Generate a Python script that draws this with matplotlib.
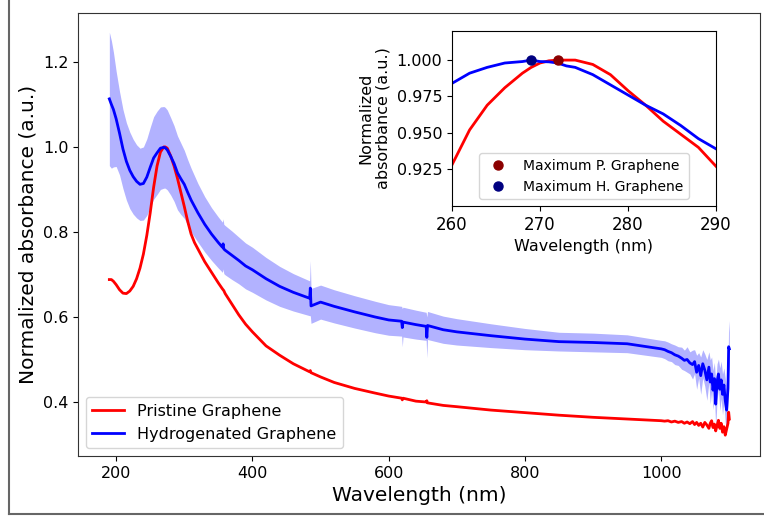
import numpy as np
import matplotlib.pyplot as plt
from matplotlib.lines import Line2D

# ── Data ──────────────────────────────────────────────────
wavelength = [190, 193, 196, 200, 205, 210, 215, 220, 225, 230, 235, 240, 245,
              250, 255, 260, 265, 270, 272, 275, 280, 285, 290, 295, 300, 305,
              310, 315, 320, 330, 340, 350, 356, 357, 358, 360, 370, 380, 390,
              400, 420, 440, 460, 484, 485, 486, 500, 520, 550, 580, 600, 619,
              620, 621, 640, 655, 656, 657, 680, 700, 750, 800, 850, 900, 950,
              1000, 1005, 1010, 1015, 1020, 1025, 1030, 1034, 1038, 1042, 1046,
              1049, 1052, 1055, 1058, 1061, 1064, 1067, 1070, 1072, 1074, 1076,
              1078, 1080, 1082, 1084, 1086, 1088, 1090, 1092, 1094, 1096, 1098,
              1099, 1100]

pristine = [0.688, 0.688, 0.684, 0.676, 0.664, 0.656, 0.655, 0.661, 0.672,
            0.690, 0.715, 0.748, 0.792, 0.845, 0.905, 0.955, 0.988, 1.000,
            1.000, 0.997, 0.979, 0.955, 0.926, 0.893, 0.860, 0.825, 0.795,
            0.775, 0.760, 0.730, 0.705, 0.680, 0.666, 0.664, 0.662, 0.655,
            0.630, 0.605, 0.583, 0.565, 0.532, 0.510, 0.490, 0.471, 0.474,
            0.469, 0.459, 0.446, 0.432, 0.421, 0.414, 0.409, 0.405, 0.409,
            0.402, 0.400, 0.403, 0.398, 0.392, 0.389, 0.381, 0.375, 0.369,
            0.364, 0.360, 0.356, 0.355, 0.356, 0.353, 0.355, 0.352, 0.354,
            0.350, 0.353, 0.349, 0.354, 0.347, 0.352, 0.345, 0.350, 0.341,
            0.352, 0.346, 0.338, 0.350, 0.356, 0.340, 0.348, 0.332, 0.345,
            0.357, 0.338, 0.350, 0.329, 0.342, 0.322, 0.336, 0.350, 0.376,
            0.360]

hydrogenated = [1.113, 1.100, 1.088, 1.066, 1.032, 0.995, 0.966, 0.945,
                0.930, 0.919, 0.912, 0.914, 0.929, 0.952, 0.974, 0.986, 0.997,
                0.999, 0.998, 0.993, 0.978, 0.961, 0.939, 0.925, 0.912, 0.893,
                0.875, 0.860, 0.845, 0.818, 0.795, 0.775, 0.764, 0.772, 0.760,
                0.757, 0.745, 0.733, 0.720, 0.711, 0.690, 0.672, 0.658, 0.644,
                0.668, 0.626, 0.635, 0.625, 0.612, 0.600, 0.593, 0.590, 0.575,
                0.588, 0.582, 0.578, 0.552, 0.580, 0.570, 0.565, 0.556, 0.548,
                0.542, 0.540, 0.537, 0.525, 0.523, 0.519, 0.516, 0.511, 0.508,
                0.503, 0.498, 0.500, 0.492, 0.488, 0.495, 0.470, 0.486, 0.462,
                0.490, 0.475, 0.452, 0.482, 0.447, 0.466, 0.428, 0.455, 0.395,
                0.448, 0.466, 0.430, 0.452, 0.418, 0.440, 0.404, 0.381, 0.432,
                0.530, 0.525]

hydro_std = [0.157, 0.150, 0.135, 0.112, 0.098, 0.093, 0.091, 0.090, 0.088,
             0.086, 0.085, 0.086, 0.090, 0.094, 0.097, 0.098, 0.097, 0.096,
             0.095, 0.094, 0.091, 0.089, 0.087, 0.084, 0.080, 0.077, 0.075,
             0.072, 0.069, 0.065, 0.062, 0.060, 0.059, 0.059, 0.058, 0.058,
             0.057, 0.055, 0.054, 0.053, 0.050, 0.047, 0.044, 0.041, 0.065,
             0.041, 0.040, 0.039, 0.038, 0.037, 0.036, 0.035, 0.045, 0.035,
             0.034, 0.033, 0.048, 0.033, 0.032, 0.031, 0.028, 0.025, 0.022,
             0.022, 0.021, 0.020, 0.021, 0.022, 0.021, 0.023, 0.022, 0.026,
             0.024, 0.030, 0.026, 0.034, 0.028, 0.040, 0.030, 0.044, 0.033,
             0.038, 0.048, 0.036, 0.052, 0.040, 0.046, 0.038, 0.055, 0.042,
             0.035, 0.050, 0.044, 0.048, 0.040, 0.052, 0.046, 0.038, 0.062,
             0.040]

# zoom 260–290 nm (inset)
wl_zoom = [260, 262, 264, 266, 268, 269, 270, 271, 272, 273, 274, 276, 278,
           280, 282, 284, 286, 288, 290]
pristine_zoom = [0.928, 0.952, 0.969, 0.981, 0.991, 0.995, 0.998, 0.9995,
                 1.000, 1.000, 1.000, 0.997, 0.990, 0.979, 0.969, 0.958,
                 0.949, 0.940, 0.927]
hydro_zoom = [0.984, 0.991, 0.995, 0.998, 0.999, 1.000, 0.999, 0.9988,
              0.998, 0.996, 0.995, 0.990, 0.983, 0.976, 0.969, 0.963, 0.955,
              0.946, 0.939]

max_p = (272, 1.000)
max_h = (269, 1.000)

# ── Figure ───────────────────────────────────────────────
fig = plt.figure(figsize=(7.64, 5.18), dpi=100)
ax = fig.add_axes([78 / 764, 1 - 456 / 518, (760 - 78) / 764, (456 - 13) / 518])

wl = np.array(wavelength)
h = np.array(hydrogenated)
s = np.array(hydro_std)

ax.fill_between(wl, h - s, h + s, color="blue", alpha=0.3, linewidth=0)
ax.plot(wl, pristine, color="red", lw=2.0, label="Pristine Graphene")
ax.plot(wl, h, color="blue", lw=2.0, label="Hydrogenated Graphene")

ax.set_xlim(144, 1145)
ax.set_ylim(0.273, 1.315)
ax.set_xticks([200, 400, 600, 800, 1000])
ax.set_yticks([0.4, 0.6, 0.8, 1.0, 1.2])
ax.tick_params(labelsize=11.5)
ax.set_xlabel("Wavelength (nm)", fontsize=14.5)
ax.set_ylabel("Normalized absorbance (a.u.)", fontsize=14.5)
for sp in ax.spines.values():
    sp.set_color("#333333")
ax.legend(loc="lower left", fontsize=11.5)

# ── Inset ────────────────────────────────────────────────
ins = fig.add_axes([452 / 764, 1 - 206 / 518, (716 - 452) / 764, (206 - 31) / 518])
ins.plot(wl_zoom, pristine_zoom, color="red", lw=2.0)
ins.plot(wl_zoom, hydro_zoom, color="blue", lw=2.0)
ins.plot(*max_p, "o", color="darkred", ms=6.5, label="Maximum P. Graphene")
ins.plot(*max_h, "o", color="navy", ms=6.5, label="Maximum H. Graphene")
ins.set_xlim(260, 290)
ins.set_ylim(0.8997, 1.020)
ins.set_xticks([260, 270, 280, 290])
ins.set_yticks([0.925, 0.950, 0.975, 1.000])
ins.tick_params(labelsize=11.5)
ins.tick_params(axis="x", labelsize=12)
ins.set_xlabel("Wavelength (nm)", fontsize=11.5)
ins.set_ylabel("Normalized\nabsorbance (a.u.)", fontsize=11.5)
ins.legend(loc="lower center", fontsize=10)

# outer frame (left and bottom edges visible in the reference)
fig.add_artist(Line2D([9 / 764, 9 / 764], [1 - 514 / 518, 1.0],
                      transform=fig.transFigure, color="#666666", lw=1.5))
fig.add_artist(Line2D([9 / 764, 1.0], [1 - 514 / 518, 1 - 514 / 518],
                      transform=fig.transFigure, color="#666666", lw=1.5))

fig.savefig("out.png", dpi=100, facecolor="white")
